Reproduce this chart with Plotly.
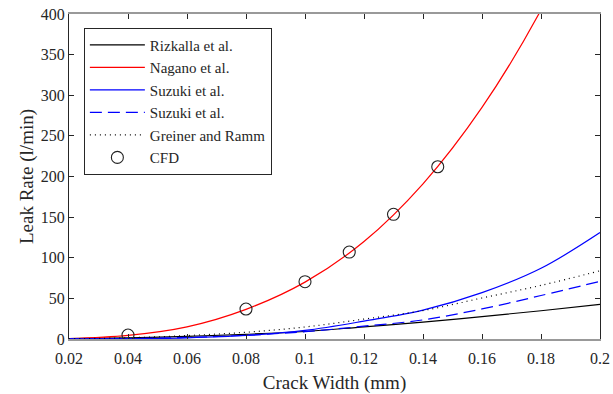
import plotly.graph_objects as go

# ---- data ----
x_curve = [0.02, 0.04, 0.06, 0.08, 0.10, 0.12, 0.14, 0.16, 0.18, 0.20]
rizkalla = [0.4, 1.5, 3.3, 5.8, 9.2, 15.0, 20.7, 27.6, 34.8, 42.7]
nagano = [0.5, 4.5, 15.0, 36.5, 70.0, 120.0, 191.0, 285.0, 405.0, 556.0]
suzuki1 = [0.05, 0.35, 1.5, 4.4, 10.5, 22.0, 35.5, 57.0, 87.0, 131.0]
suzuki2 = [0.05, 0.6, 1.9, 4.5, 9.0, 15.8, 23.5, 37.0, 53.5, 71.0]
greiner = [0.3, 1.5, 4.2, 8.3, 14.8, 24.5, 35.0, 50.5, 66.0, 84.0]
cfd_x = [0.04, 0.08, 0.10, 0.115, 0.13, 0.145]
cfd_y = [4.9, 36.9, 70.5, 107.0, 153.5, 212.0]

x_ticks = [0.02, 0.04, 0.06, 0.08, 0.1, 0.12, 0.14, 0.16, 0.18, 0.2]
x_ticklabels = ["0.02", "0.04", "0.06", "0.08", "0.1", "0.12", "0.14", "0.16", "0.18", "0.2"]
y_ticks = [0, 50, 100, 150, 200, 250, 300, 350, 400]

FONT = "Times New Roman"

fig = go.Figure()
fig.add_trace(go.Scatter(x=x_curve, y=rizkalla, mode="lines", name="Rizkalla et al.",
                         line=dict(color="black", width=1.2, shape="spline")))
fig.add_trace(go.Scatter(x=x_curve, y=nagano, mode="lines", name="Nagano et al.",
                         line=dict(color="#ff0000", width=1.2, shape="spline")))
fig.add_trace(go.Scatter(x=x_curve, y=suzuki1, mode="lines", name="Suzuki et al.",
                         line=dict(color="#0000ff", width=1.2, shape="spline")))
fig.add_trace(go.Scatter(x=x_curve, y=suzuki2, mode="lines", name="Suzuki et al.",
                         line=dict(color="#0000ff", width=1.2, shape="spline", dash="12px,6px")))
fig.add_trace(go.Scatter(x=x_curve, y=greiner, mode="lines", name="Greiner and Ramm",
                         line=dict(color="black", width=1.2, shape="spline", dash="1px,4px")))
fig.add_trace(go.Scatter(x=cfd_x, y=cfd_y, mode="markers", name="CFD",
                         marker=dict(symbol="circle-open", size=12, color="#222",
                                     line=dict(width=1.1, color="#222"))))

fig.update_layout(
    width=613, height=394,
    margin=dict(l=69, r=13, t=14, b=55, autoexpand=False),
    paper_bgcolor="white", plot_bgcolor="white",
    font=dict(family=FONT, size=14, color="#262626"),
    legend=dict(x=0.028, y=0.958, xanchor="left", yanchor="top",
                bgcolor="white", bordercolor="#262626", borderwidth=1,
                font=dict(family=FONT, size=15, color="#262626"),
                tracegroupgap=0, itemwidth=55),
    showlegend=True,
)
fig.update_xaxes(
    range=[0.02, 0.2], tickvals=x_ticks, ticktext=x_ticklabels, automargin=False,
    ticks="inside", ticklen=5, tickcolor="#262626", showgrid=False, zeroline=False,
    showline=True, linecolor="#999999", linewidth=2, mirror="ticks",
    ticklabelstandoff=4,
    title=dict(text="Crack Width (mm)", font=dict(family=FONT, size=19, color="#262626"), standoff=9),
    tickfont=dict(family=FONT, size=16, color="#262626"),
)
fig.update_yaxes(
    range=[0, 400], tickvals=y_ticks, automargin=False,
    ticks="inside", ticklen=5, tickcolor="#262626", showgrid=False, zeroline=False,
    showline=True, linecolor="#262626", linewidth=1, mirror="ticks",
    title=dict(text="Leak Rate (l/min)", font=dict(family=FONT, size=19, color="#262626"), standoff=2),
    tickfont=dict(family=FONT, size=16, color="#262626"),
)

fig.write_html("out.html", config={"displayModeBar": False},
               post_script="document.body.style.margin='0';")
